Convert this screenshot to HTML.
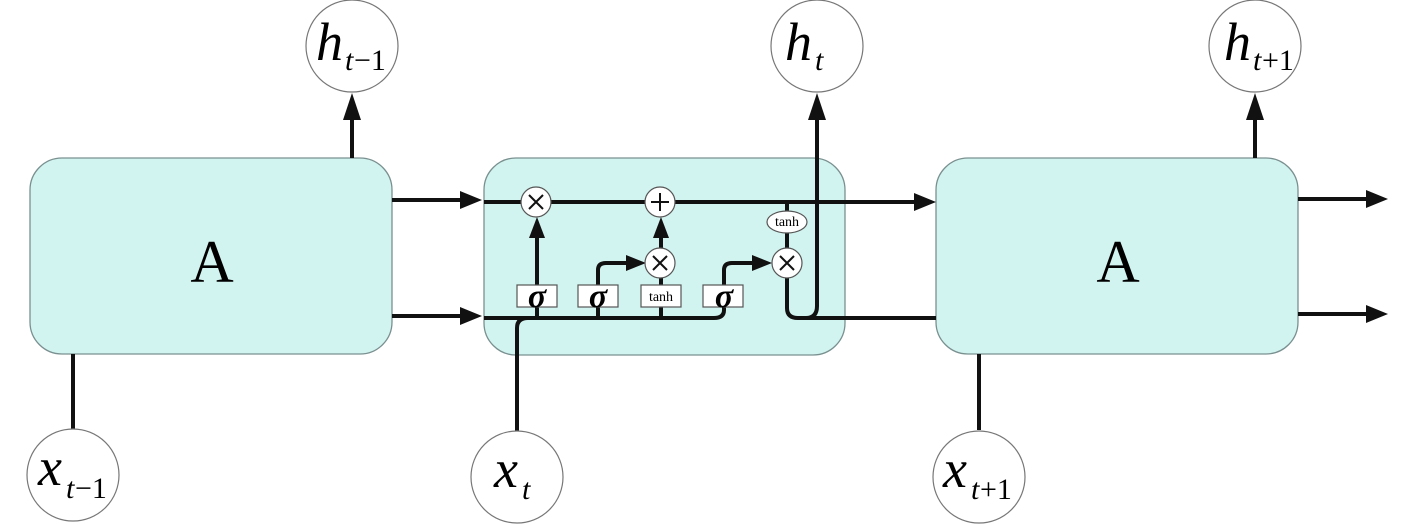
<!DOCTYPE html>
<html><head><meta charset="utf-8"><style>
html,body{margin:0;padding:0;background:#fff}
svg{display:block}
text{font-family:"Liberation Serif",serif}
</style></head><body>
<svg width="1417" height="525" viewBox="0 0 1417 525" xmlns="http://www.w3.org/2000/svg">
<g fill="#d2f4f0" stroke="#7a9090" stroke-width="1.3">
<rect x="30" y="158" width="362" height="196" rx="32"/>
<rect x="484" y="158" width="361" height="197" rx="32"/>
<rect x="936" y="158" width="362" height="196" rx="32"/>
</g>
<g fill="#000" font-size="60" text-anchor="middle">
<text x="212" y="282">A</text>
<text x="1118" y="282">A</text>
</g>
<g stroke="#111" stroke-width="4" fill="none">
<line x1="352" y1="158" x2="352" y2="118"/>
<line x1="73" y1="354" x2="73" y2="430"/>
<line x1="392" y1="200" x2="462" y2="200"/>
<line x1="392" y1="316" x2="462" y2="316"/>
<line x1="1255" y1="158" x2="1255" y2="118"/>
<line x1="979" y1="354" x2="979" y2="430"/>
<line x1="1298" y1="199" x2="1368" y2="199"/>
<line x1="1298" y1="314" x2="1368" y2="314"/>
<line x1="484" y1="202" x2="915" y2="202"/>
<path d="M484 318 H714 Q724 318 724 310 V304"/>
<path d="M517 432 V328 Q517 318 528 318"/>
<line x1="537" y1="318" x2="537" y2="307"/>
<line x1="598" y1="318" x2="598" y2="307"/>
<line x1="661" y1="318" x2="661" y2="307"/>
<line x1="537" y1="285" x2="537" y2="236"/>
<path d="M598 285 V270 Q598 263 606 263 H628"/>
<line x1="661" y1="285" x2="661" y2="278"/>
<line x1="661" y1="248" x2="661" y2="236"/>
<path d="M724 285 V270 Q724 263 732 263 H754"/>
<line x1="787" y1="202" x2="787" y2="212"/>
<line x1="787" y1="233" x2="787" y2="248"/>
<path d="M787 278 V308 Q787 318 798 318 H936"/>
<path d="M806 318 Q817 318 817 306 V118"/>
</g>
<g fill="#111">
<polygon points="482,200 460,191 460,209"/>
<polygon points="482,316 460,307 460,325"/>
<polygon points="1388,199 1366,190 1366,208"/>
<polygon points="1388,314 1366,305 1366,323"/>
<polygon points="936,202 914,193 914,211"/>
<polygon points="352,93 343,120 361,120"/>
<polygon points="1255,93 1246,120 1264,120"/>
<polygon points="817,93 808,120 826,120"/>
<polygon points="537,217 529,238 545,238"/>
<polygon points="661,217 653,238 669,238"/>
<polygon points="646,263 626,255 626,271"/>
<polygon points="772,263 752,255 752,271"/>
</g>
<g fill="#fff" stroke="#555" stroke-width="1.2">
<circle cx="536" cy="202" r="15"/>
<circle cx="660" cy="202" r="15"/>
<circle cx="660" cy="263" r="15"/>
<circle cx="787" cy="263" r="15"/>
<ellipse cx="787" cy="222" rx="20" ry="11"/>
<rect x="517" y="285" width="40" height="22"/>
<rect x="578" y="285" width="40" height="22"/>
<rect x="641" y="285" width="40" height="22"/>
<rect x="703" y="285" width="40" height="22"/>
</g>
<g stroke="#111" stroke-width="2">
<path d="M529 195 L543 209 M543 195 L529 209"/>
<path d="M653 256 L667 270 M667 256 L653 270"/>
<path d="M780 256 L794 270 M794 256 L780 270"/>
<path d="M660 193 V211 M651 202 H669"/>
</g>
<g fill="#000" text-anchor="middle">
<text x="537" y="307" font-size="34" font-style="italic" font-weight="bold">σ</text>
<text x="598" y="307" font-size="34" font-style="italic" font-weight="bold">σ</text>
<text x="724" y="307" font-size="34" font-style="italic" font-weight="bold">σ</text>
<text x="661" y="301" font-size="14">tanh</text>
<text x="787" y="226" font-size="14">tanh</text>
</g>
<g fill="#fff" stroke="#777" stroke-width="1.2">
<circle cx="352" cy="46" r="46"/>
<circle cx="817" cy="46" r="46"/>
<circle cx="1255" cy="46" r="46"/>
<circle cx="73" cy="475" r="46"/>
<circle cx="517" cy="477" r="46"/>
<circle cx="979" cy="477" r="46"/>
</g>
<g fill="#000" font-style="italic">
<text x="316" y="60" font-size="54">h</text><text x="345" y="70" font-size="30">t</text><text x="354" y="70" font-size="30" font-style="normal">−1</text>
<text x="785" y="60" font-size="54">h</text><text x="815" y="70" font-size="30">t</text>
<text x="1224" y="60" font-size="54">h</text><text x="1253" y="70" font-size="30">t</text><text x="1262" y="70" font-size="30" font-style="normal">+1</text>
<text x="38" y="485" font-size="54">x</text><text x="66" y="498" font-size="30">t</text><text x="75" y="498" font-size="30" font-style="normal">−1</text>
<text x="494" y="487" font-size="54">x</text><text x="522" y="499" font-size="30">t</text>
<text x="943" y="487" font-size="54">x</text><text x="971" y="499" font-size="30">t</text><text x="980" y="499" font-size="30" font-style="normal">+1</text>
</g>
</svg>
</body></html>
